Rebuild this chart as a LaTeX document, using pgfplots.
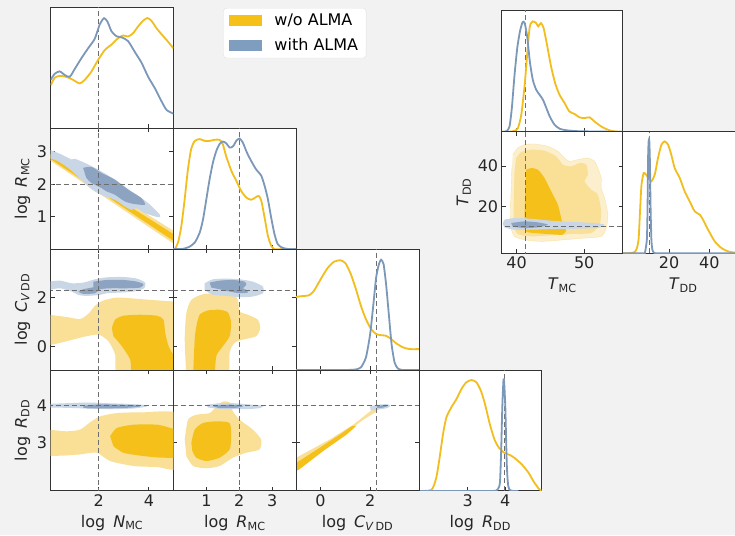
\documentclass[border=0pt]{standalone}
\usepackage{fontspec}
\setmainfont{DejaVu Sans}
\usepackage{pgfplots}
\pgfplotsset{compat=1.18}

\definecolor{bg}{HTML}{F2F2F2}
\definecolor{cY}{RGB}{242,190,30}
\definecolor{cB}{RGB}{124,152,185}
\definecolor{legY}{RGB}{245,193,25}
\definecolor{legB}{RGB}{127,157,190}
\definecolor{fYd}{RGB}{245,192,26}
\definecolor{fYl}{RGB}{249,224,150}
\definecolor{fYll}{RGB}{252,239,205}
\definecolor{fBd}{RGB}{140,163,193}
\definecolor{fBl}{RGB}{201,214,229}
\definecolor{cT}{RGB}{110,110,110}

\newcommand\fs{\fontsize{16}{19}\selectfont}

\pgfplotsset{
  panel/.style={scale only axis, anchor=south west, width=122.75pt, height=120.9pt,
    axis line style={draw=black!80, line width=0.9pt},
    tick align=inside, major tick length=4pt,
    tick style={black!80, line width=0.8pt},
    tick label style={font=\fs, text=black!85},
    label style={font=\fs, text=black!85},
    xlabel style={yshift=-2pt},
    /pgf/number format/assume math mode=true,
    axis background/.style={fill=white}},
  diag/.style={panel, ymin=0, ymax=1, ytick=\empty, xtick pos=left},
  off/.style={panel, xtick pos=both, ytick pos=both, xticklabel pos=left, yticklabel pos=left},
  noxl/.style={xticklabel style={text opacity=0}},
  noyl/.style={yticklabel style={text opacity=0}},
  yln/.style={color=cY, line width=1.8pt, smooth, tension=0.4, forget plot},
  bln/.style={color=cB, line width=1.8pt, smooth, tension=0.4, forget plot},
  tru/.style={color=cT, line width=1.1pt, dash pattern=on 5pt off 3pt, forget plot},
  pYd/.style={fill=fYd, draw=none, smooth, tension=0.4, forget plot},
  pYl/.style={fill=fYl, draw=none, smooth, tension=0.4, forget plot},
  pYll/.style={fill=fYll, draw=fYl!80!fYll, line width=0.4pt, smooth, tension=0.4, forget plot},
  pBd/.style={fill=fBd, draw=none, smooth, tension=0.4, forget plot},
  pBl/.style={fill=fBl, draw=none, smooth, tension=0.4, forget plot},
}

\begin{document}
\begin{tikzpicture}
\path[use as bounding box, fill=bg] (0pt,0pt) rectangle (735pt,535pt);

% ---------- row 0
\begin{axis}[diag, at={(50.7pt,406.8pt)}, xmin=0.08, xmax=4.98, xtick={2,4}, noxl,
  legend style={at={(1.406,0.994)}, anchor=north west, draw=black!12, fill=white,
    rounded corners=3pt, font=\fs, inner xsep=6pt, inner ysep=4pt,
    /tikz/row sep=7pt, /tikz/column sep=10pt},
  legend cell align=left,
  legend image code/.code={\fill[sharp corners,#1,draw=none] (0pt,-5.5pt) rectangle (33pt,5.5pt);}]
\addlegendimage{fill=legY}
\addlegendentry{w/o ALMA}
\addlegendimage{fill=legB}
\addlegendentry{with ALMA}
\addplot[tru] coordinates {(2,0) (2,1)};
\addplot[yln] coordinates {(0.08,0.355)(0.24,0.417)(0.44,0.433)(0.70,0.425)(0.97,0.40)(1.24,0.37)(1.44,0.40)(1.70,0.467)(1.97,0.564)(2.24,0.647)(2.50,0.69)(2.77,0.744)(2.97,0.767)(3.17,0.758)(3.37,0.786)(3.57,0.842)(3.77,0.889)(3.94,0.911)(4.10,0.889)(4.30,0.828)(4.50,0.778)(4.70,0.731)(4.98,0.661)};
\addplot[bln] coordinates {(0.08,0.40)(0.24,0.45)(0.44,0.47)(0.64,0.44)(0.84,0.425)(1.04,0.49)(1.31,0.58)(1.57,0.66)(1.84,0.74)(2.04,0.86)(2.21,0.91)(2.35,0.88)(2.51,0.80)(2.71,0.76)(2.93,0.75)(3.17,0.72)(3.44,0.63)(3.71,0.54)(3.97,0.425)(4.24,0.33)(4.51,0.22)(4.71,0.15)(4.98,0.12)};
\end{axis}

% ---------- row 1
\begin{axis}[off, at={(50.7pt,285.9pt)}, xmin=0.08, xmax=4.98, xtick={2,4}, noxl,
  ymin=0, ymax=3.73, ytick={1,2,3}, ylabel={log\hspace{0.5em}\textit{R}\textsubscript{MC}}]
\addplot[fill=fYl, draw=none, forget plot] coordinates {(0,2.968)(5.1,0.508)(5.1,0.110)(0,2.764)};
\addplot[fill=fYd, draw=none, forget plot] coordinates {(0,2.899)(5.1,0.404)(5.1,0.193)(0,2.819)};
\addplot[pBl] coordinates {(0,3.08)(0.505,2.920)(0.905,2.765)(1.039,2.786)(1.439,2.661)(1.972,2.454)(2.639,2.144)(3.305,1.781)(3.972,1.419)(4.439,1.057)(4.372,0.984)(3.839,1.109)(3.505,1.264)(3.305,1.212)(3.039,1.316)(2.639,1.523)(2.239,1.626)(1.839,1.781)(1.572,1.937)(1.305,2.144)(0.772,2.506)(0.372,2.713)(0,2.82)};
\addplot[pBd] coordinates {(1.372,2.506)(1.705,2.537)(2.105,2.351)(2.639,2.144)(3.172,1.833)(3.705,1.574)(3.839,1.367)(3.372,1.398)(3.039,1.471)(2.639,1.678)(2.305,1.781)(2.105,1.885)(1.705,2.040)(1.505,2.195)(1.439,2.351)};
\addplot[tru] coordinates {(2,-1) (2,5)};
\addplot[tru] coordinates {(-1,2) (6,2)};
\end{axis}

\begin{axis}[diag, at={(173.45pt,285.9pt)}, xmin=0, xmax=3.73, xtick={1,2,3}, noxl]
\addplot[tru] coordinates {(2,0) (2,1)};
\addplot[yln] coordinates {(0,0)(0.04,0)(0.14,0.055)(0.24,0.19)(0.34,0.41)(0.44,0.66)(0.54,0.83)(0.65,0.895)(0.80,0.91)(0.95,0.895)(1.10,0.895)(1.25,0.904)(1.40,0.904)(1.50,0.868)(1.60,0.77)(1.76,0.647)(1.91,0.565)(2.06,0.48)(2.21,0.427)(2.36,0.408)(2.49,0.427)(2.59,0.44)(2.67,0.40)(2.77,0.26)(2.87,0.11)(2.97,0.028)(3.07,0)(3.3,0)(3.73,0)};
\addplot[bln] coordinates {(0,0)(0.15,0)(0.29,0.002)(0.49,0.02)(0.65,0.055)(0.80,0.138)(0.90,0.248)(1.00,0.413)(1.10,0.58)(1.20,0.716)(1.30,0.81)(1.40,0.868)(1.50,0.89)(1.60,0.876)(1.71,0.84)(1.81,0.85)(1.91,0.895)(2.01,0.915)(2.11,0.88)(2.23,0.80)(2.36,0.73)(2.51,0.66)(2.67,0.606)(2.77,0.523)(2.87,0.413)(2.97,0.26)(3.07,0.124)(3.17,0.04)(3.32,0.01)(3.52,0)(3.73,0)};
\end{axis}

% ---------- row 2
\begin{axis}[off, at={(50.7pt,165pt)}, xmin=0.08, xmax=4.98, xtick={2,4}, noxl,
  ymin=-0.97, ymax=3.96, ytick={0,2}, ylabel={log\hspace{0.5em}\textit{C}\textsubscript{\textit{V}\,DD}}]
\addplot[pYl] coordinates {(0,1.284)(0.719,1.189)(1.252,1.108)(1.585,1.324)(1.852,1.648)(2.185,1.864)(2.719,1.985)(3.385,1.945)(4.052,1.891)(4.985,1.823)(5.3,1.82)(5.3,-1.3)(2.852,-1.3)(2.652,-0.336)(2.385,0.204)(1.985,0.474)(1.385,0.379)(0.719,0.204)(0,0.03)};
\addplot[pYd] coordinates {(2.519,0.744)(2.652,1.081)(2.985,1.243)(3.652,1.284)(4.319,1.243)(4.585,1.081)(4.652,0.541)(4.785,0.002)(4.985,-0.336)(5.3,-0.4)(5.3,-1.3)(3.452,-1.3)(3.252,-0.538)(2.919,0.002)(2.585,0.406)};
\addplot[pBl] coordinates {(0,2.633)(0.452,2.674)(0.919,2.566)(1.385,2.593)(1.852,2.728)(2.319,2.809)(2.985,2.822)(3.519,2.755)(3.852,2.593)(3.812,2.363)(3.385,2.228)(2.852,2.188)(2.319,2.161)(2.052,2.093)(1.519,2.053)(1.185,2.093)(0.919,2.228)(0.452,2.363)(0,2.296)};
\addplot[pBd] coordinates {(1.785,2.633)(2.319,2.701)(2.985,2.701)(3.519,2.633)(3.785,2.525)(3.652,2.390)(3.119,2.363)(2.452,2.363)(2.052,2.323)(1.852,2.161)(1.385,2.134)(1.185,2.228)(1.385,2.323)(1.785,2.404)};
\addplot[tru] coordinates {(2,-2) (2,5)};
\addplot[tru] coordinates {(-1,2.27) (6,2.27)};
\end{axis}

\begin{axis}[off, at={(173.45pt,165pt)}, xmin=0, xmax=3.73, xtick={1,2,3}, noxl,
  ymin=-0.97, ymax=3.96, ytick={0,2}, noyl]
\addplot[pYl] coordinates {(0.393,-1.3)(0.342,0.271)(0.393,1.351)(0.544,1.891)(0.898,2.120)(1.403,2.161)(1.807,2.134)(1.958,1.891)(2.009,1.419)(2.261,1.284)(2.564,1.081)(2.635,0.744)(2.514,0.406)(2.110,0.271)(1.857,0.136)(1.706,-0.268)(1.706,-1.3)};
\addplot[pYd] coordinates {(0.595,-1.3)(0.645,0.271)(0.696,0.811)(0.797,1.284)(1.049,1.459)(1.403,1.486)(1.655,1.378)(1.756,0.946)(1.706,0.406)(1.504,0.002)(1.302,-0.403)(1.251,-1.3)};
\addplot[pBl] coordinates {(0.948,2.566)(1.201,2.728)(1.605,2.755)(2.009,2.728)(2.413,2.633)(2.716,2.431)(2.716,2.161)(2.413,2.026)(2.009,1.999)(1.605,2.053)(1.201,2.093)(0.948,2.296)};
\addplot[pBd] coordinates {(1.100,2.593)(1.403,2.674)(1.807,2.701)(2.160,2.633)(2.211,2.498)(2.110,2.363)(2.211,2.296)(2.261,2.188)(2.009,2.161)(1.706,2.228)(1.403,2.323)(1.150,2.390)};
\addplot[tru] coordinates {(2,-2) (2,5)};
\addplot[tru] coordinates {(-1,2.27) (6,2.27)};
\end{axis}

\begin{axis}[diag, at={(296.2pt,165pt)}, xmin=-0.97, xmax=3.96, xtick={0,2}, noxl]
\addplot[tru] coordinates {(2.27,0) (2.27,1)};
\addplot[yln] coordinates {(-1.0,0.604)(-0.80,0.61)(-0.46,0.618)(-0.26,0.654)(0.01,0.75)(0.28,0.84)(0.55,0.896)(0.82,0.907)(1.02,0.88)(1.23,0.79)(1.43,0.668)(1.63,0.53)(1.83,0.42)(2.04,0.338)(2.24,0.297)(2.44,0.288)(2.64,0.283)(2.85,0.255)(3.05,0.22)(3.32,0.187)(3.59,0.173)(3.99,0.173)};
\addplot[bln] coordinates {(-1.0,0)(0,0)(0.8,0)(1.2,0.001)(1.43,0.005)(1.63,0.022)(1.83,0.104)(2.00,0.297)(2.13,0.544)(2.24,0.764)(2.35,0.874)(2.44,0.912)(2.54,0.874)(2.64,0.709)(2.75,0.46)(2.86,0.214)(2.98,0.063)(3.12,0.011)(3.32,0)(3.6,0)(3.99,0)};
\end{axis}

% ---------- row 3 (drawn right to left)
\begin{axis}[diag, at={(418.95pt,44.1pt)}, xmin=1.7, xmax=4.97, xtick={3,4},
  xlabel={log\hspace{0.5em}\textit{R}\textsubscript{DD}}]
\addplot[tru] coordinates {(3.98,0) (3.98,1)};
\addplot[yln] coordinates {(1.67,0)(2.03,0.008)(2.16,0.108)(2.25,0.274)(2.34,0.468)(2.43,0.607)(2.56,0.69)(2.70,0.76)(2.83,0.842)(2.96,0.898)(3.10,0.917)(3.23,0.898)(3.35,0.828)(3.46,0.717)(3.59,0.55)(3.71,0.427)(3.83,0.357)(3.97,0.316)(4.13,0.296)(4.26,0.269)(4.44,0.219)(4.62,0.15)(4.75,0.08)(4.89,0.019)(4.97,0)};
\addplot[bln] coordinates {(1.67,0)(3.0,0)(3.4,0)(3.6,0)(3.70,0)(3.75,0.002)(3.79,0.01)(3.83,0.03)(3.86,0.08)(3.89,0.33)(3.92,0.69)(3.95,0.911)(3.97,0.9)(4.00,0.7)(4.02,0.45)(4.04,0.219)(4.06,0.10)(4.08,0.039)(4.11,0.012)(4.15,0.003)(4.20,0)(4.35,0)};
\end{axis}

\begin{axis}[off, at={(296.2pt,44.1pt)}, xmin=-0.97, xmax=3.96, xtick={0,2},
  xlabel={log\hspace{0.5em}\textit{C}\textsubscript{\textit{V}\,DD}},
  ymin=1.7, ymax=4.97, ytick={3,4}, noyl]
\addplot[fill=fYl, draw=none, forget plot] coordinates {(-1.1,2.55)(0.376,3.089)(1.321,3.491)(1.996,3.849)(2.266,3.983)(2.266,3.849)(1.726,3.625)(0.646,3.089)(-0.298,2.642)(-1.1,2.15)};
\addplot[fill=fYd, draw=none, forget plot] coordinates {(-1.1,2.40)(-0.029,2.866)(0.781,3.223)(1.253,3.447)(1.456,3.465)(1.051,3.223)(0.106,2.776)(-0.838,2.285)(-1.1,2.2)};
\addplot[pBl] coordinates {(1.996,3.983)(2.266,4.027)(2.671,4.045)(2.805,4.001)(2.671,3.938)(2.266,3.893)(2.023,3.876)};
\addplot[pBd] coordinates {(2.266,3.992)(2.536,4.019)(2.698,3.992)(2.468,3.947)(2.293,3.947)};
\addplot[tru] coordinates {(2.27,1) (2.27,6)};
\addplot[tru] coordinates {(-2,4.0) (6,4.0)};
\end{axis}

\begin{axis}[off, at={(173.45pt,44.1pt)}, xmin=0, xmax=3.73, xtick={1,2,3},
  xlabel={log\hspace{0.5em}\textit{R}\textsubscript{MC}},
  ymin=1.7, ymax=4.97, ytick={3,4}, noyl]
\addplot[pYl] coordinates {(0.342,3.089)(0.443,3.625)(0.696,3.759)(1.100,3.804)(1.302,3.983)(1.504,4.117)(1.706,4.090)(1.807,3.849)(2.009,3.625)(2.413,3.357)(2.665,3.089)(2.615,2.821)(2.211,2.732)(1.807,2.598)(1.403,2.374)(0.999,2.312)(0.595,2.374)(0.393,2.642)};
\addplot[pYd] coordinates {(0.544,3.000)(0.645,3.357)(0.898,3.536)(1.302,3.581)(1.706,3.536)(1.756,3.178)(1.706,2.821)(1.403,2.598)(0.999,2.508)(0.696,2.598)(0.574,2.776)};
\addplot[pBl] coordinates {(0.999,4.027)(1.403,4.072)(1.807,4.072)(2.211,4.045)(2.716,4.001)(2.615,3.938)(2.211,3.911)(1.807,3.911)(1.403,3.920)(1.049,3.956)};
\addplot[pBd] coordinates {(1.201,3.983)(1.504,4.027)(1.908,4.027)(2.110,3.983)(1.807,3.938)(1.403,3.938)};
\addplot[tru] coordinates {(2,1) (2,6)};
\addplot[tru] coordinates {(-1,4.0) (6,4.0)};
\end{axis}

\begin{axis}[off, at={(50.7pt,44.1pt)}, xmin=0.08, xmax=4.98, xtick={2,4},
  xlabel={log\hspace{0.5em}\textit{N}\textsubscript{MC}},
  ymin=1.7, ymax=4.97, ytick={3,4}, ylabel={log\hspace{0.5em}\textit{R}\textsubscript{DD}}]
\addplot[pYl] coordinates {(0,3.357)(0.719,3.312)(1.252,3.357)(1.652,3.554)(2.052,3.715)(2.719,3.804)(3.652,3.822)(5.3,3.759)(5.3,2.330)(4.319,2.347)(3.385,2.374)(2.452,2.508)(1.919,2.732)(1.252,2.687)(0.719,2.660)(0,2.642)};
\addplot[pYd] coordinates {(2.452,3.178)(2.719,3.402)(3.385,3.491)(4.319,3.491)(4.852,3.402)(5.3,3.268)(5.3,2.642)(4.585,2.598)(3.785,2.642)(2.985,2.732)(2.585,2.910)};
\addplot[pBl] coordinates {(0,4.054)(0.719,4.072)(1.519,4.090)(2.319,4.072)(3.119,4.054)(3.785,4.027)(3.919,3.983)(3.385,3.929)(2.452,3.911)(1.519,3.929)(0.719,3.947)(0,3.956)};
\addplot[pBd] coordinates {(1.385,4.001)(1.919,4.036)(2.585,4.036)(3.385,4.019)(3.652,3.983)(3.119,3.947)(2.052,3.929)(1.385,3.938)};
\addplot[tru] coordinates {(2,1) (2,6)};
\addplot[tru] coordinates {(-1,4.0) (6,4.0)};
\end{axis}

% ---------- top right corner
\begin{axis}[diag, at={(501.7pt,403.3pt)}, width=121pt, height=121.6pt,
  xmin=37.8, xmax=55.7, xtick={40,50}, noxl]
\addplot[tru] coordinates {(41.35,0) (41.35,1)};
\addplot[yln] coordinates {(37.8,0)(39.0,0)(39.7,0.008)(40.2,0.03)(40.7,0.14)(41.2,0.386)(41.6,0.66)(41.96,0.866)(42.4,0.907)(42.9,0.893)(43.2,0.866)(43.6,0.893)(44.0,0.852)(44.5,0.715)(45.1,0.537)(45.7,0.4)(46.35,0.304)(47.1,0.236)(47.8,0.167)(48.6,0.145)(49.3,0.118)(50.05,0.112)(50.8,0.118)(51.5,0.085)(52.5,0.044)(53.5,0.016)(54.2,0.005)(55,0)(55.7,0)};
\addplot[bln] coordinates {(37.8,0)(38.3,0)(38.6,0.008)(38.96,0.044)(39.3,0.195)(39.7,0.468)(40.1,0.688)(40.5,0.825)(40.88,0.9)(41.2,0.893)(41.6,0.77)(41.96,0.578)(42.4,0.427)(42.9,0.345)(43.4,0.304)(43.9,0.263)(44.4,0.195)(44.9,0.126)(45.6,0.058)(46.35,0.025)(47.1,0.014)(48,0.008)(49.1,0.004)(51,0.002)(54,0)(55.7,0)};
\end{axis}

\begin{axis}[diag, at={(622.7pt,281.7pt)}, width=121pt, height=121.6pt,
  xmin=-3, xmax=57, xtick={20,40}, xlabel={\textit{T}\textsubscript{DD}}]
\addplot[tru] coordinates {(10.1,0) (10.1,1)};
\addplot[yln] coordinates {(-3,0)(-1,0)(1,0.002)(2.95,0.011)(4.0,0.04)(4.9,0.12)(5.6,0.35)(6.3,0.56)(7.4,0.66)(8.55,0.647)(9.9,0.619)(11.2,0.592)(12.9,0.647)(14.5,0.784)(16.2,0.893)(17.8,0.92)(19.5,0.893)(21.1,0.81)(22.8,0.70)(25.3,0.619)(27.7,0.51)(30.2,0.427)(32.7,0.345)(35.2,0.318)(36.8,0.277)(39.3,0.195)(42.6,0.099)(45.9,0.044)(49.2,0.016)(52.7,0.005)(57,0)};
\addplot[bln] coordinates {(-3,0)(3,0)(6,0)(7.5,0)(8.0,0.002)(8.5,0.05)(9.0,0.12)(9.3,0.35)(9.6,0.8)(9.9,0.93)(10.2,0.92)(10.5,0.75)(10.8,0.4)(11.2,0.12)(11.7,0.03)(12.5,0.005)(14,0)(20,0)(57,0)};
\end{axis}

\begin{axis}[off, at={(501.7pt,281.7pt)}, width=121pt, height=121.6pt,
  xmin=37.8, xmax=55.7, xtick={40,50}, xlabel={\textit{T}\textsubscript{MC}},
  ymin=-3, ymax=57, ytick={20,40}, ylabel={\textit{T}\textsubscript{DD}}]
\addplot[pYll] coordinates {(39.45,45.65)(40.19,48.94)(41.18,50.59)(42.65,50.92)(44.63,49.76)(46.11,47.30)(47.09,44.01)(47.83,42.36)(49.06,43.19)(50.54,44.01)(51.53,42.36)(52.02,39.07)(52.52,34.14)(52.52,29.21)(53.01,24.27)(53.50,16.05)(53.26,9.47)(52.52,5.36)(50.05,4.54)(47.09,3.71)(43.64,2.89)(41.18,3.71)(39.70,5.36)(39.20,9.47)(39.10,17.69)(39.20,29.21)(39.30,39.07)};
\addplot[pYl] coordinates {(39.94,44.01)(40.68,46.97)(42.16,48.12)(44.13,47.63)(45.86,44.83)(46.85,40.72)(48.08,39.90)(49.31,41.54)(50.30,40.72)(50.54,35.78)(50.05,32.49)(51.04,28.38)(52.02,25.92)(52.52,17.69)(52.27,11.11)(51.04,7.00)(48.08,6.51)(45.12,5.85)(42.16,5.36)(40.19,6.51)(39.60,11.11)(39.60,25.92)(39.70,37.43)};
\addplot[pYd] coordinates {(41.42,38.25)(42.16,39.07)(43.15,38.25)(44.13,34.14)(45.12,27.56)(46.11,20.98)(46.60,14.40)(46.85,11.11)(47.34,8.65)(46.85,6.18)(44.63,6.51)(42.65,7.00)(41.42,7.82)(41.18,12.76)(41.27,25.92)};
\addplot[pBl] coordinates {(38.22,13.58)(39.70,14.40)(42.16,14.07)(45.12,13.09)(48.57,12.43)(51.53,11.94)(53.01,11.11)(52.02,9.47)(49.06,9.14)(45.61,8.97)(42.16,8.65)(39.70,8.65)(38.22,9.80)(37.97,11.94)};
\addplot[pBd] coordinates {(39.20,11.94)(41.18,12.76)(43.15,12.26)(44.63,11.11)(43.15,9.80)(41.18,9.47)(39.45,10.13)};
\addplot[tru] coordinates {(41.35,-5) (41.35,60)};
\addplot[tru] coordinates {(30,10.1) (60,10.1)};
\end{axis}

\end{tikzpicture}
\end{document}
